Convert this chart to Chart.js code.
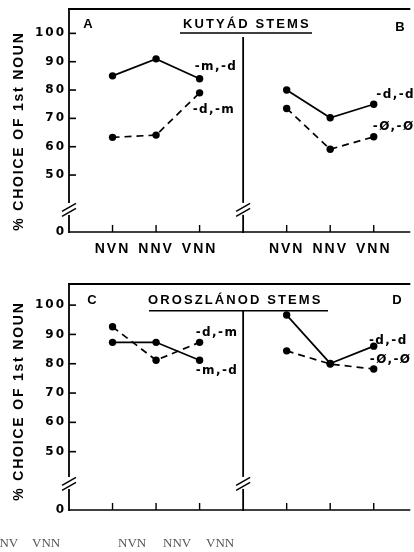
<!DOCTYPE html>
<html><head><meta charset="utf-8">
<script src="https://cdn.jsdelivr.net/npm/chart.js@4/dist/chart.umd.min.js"></script>
<style>
html,body{margin:0;padding:0;background:#fff;width:414px;height:552px;overflow:hidden;position:relative}
canvas{position:absolute;left:0}
#c1{top:0}
#c2{top:270px}
.stray{position:absolute;top:536px;font-family:"Liberation Serif",serif;font-size:13px;color:#555;line-height:13px;white-space:nowrap}
</style></head><body>
<canvas id="c1" width="414" height="270"></canvas>
<canvas id="c2" width="414" height="282"></canvas>
<div class="stray" style="left:-10px">NNV</div>
<div class="stray" style="left:32px">VNN</div>
<div class="stray" style="left:118px">NVN</div>
<div class="stray" style="left:163px">NNV</div>
<div class="stray" style="left:206px">VNN</div>
<script>
// ---- data ----
const categories = ['NVN', 'NNV', 'VNN'];
const xLeftPanel = [0, 1, 2];
const xRightPanel = [4, 5, 6];
const yTickValues = [0, 50, 60, 70, 80, 90, 100];
const yTickLabels = ['0', '50', '60', '70', '80', '90', '100'];
const yAxisTitle = '% CHOICE OF 1st NOUN';

const kutyadTitle = 'KUTYÁD STEMS';
const kutyadA_md = [85, 91, 84];       // -m,-d solid
const kutyadA_dm = [63.3, 64.1, 79];   // -d,-m dashed
const kutyadB_dd = [80, 70.2, 75];     // -d,-d solid
const kutyadB_00 = [73.5, 59.1, 63.5]; // -Ø,-Ø dashed

const oroszTitle = 'OROSZLÁNOD STEMS';
const oroszC_md = [87.3, 87.3, 81.2];  // -m,-d solid
const oroszC_dm = [92.6, 81.2, 87.3];  // -d,-m dashed
const oroszD_dd = [96.6, 80.1, 86];    // -d,-d solid
const oroszD_00 = [84.4, 79.9, 78.2];  // -Ø,-Ø dashed

const xPositions = xLeftPanel.concat(xRightPanel);

function seriesSet(xs, values, dashed) {
  return {
    data: values.map((v, i) => ({x: xs[i], y: v})),
    borderColor: '#000', backgroundColor: '#000', borderWidth: 1.7,
    borderDash: dashed ? [7, 5] : [], pointRadius: 3.7, pointHoverRadius: 3.7,
    pointBackgroundColor: '#000', pointBorderWidth: 0, tension: 0, clip: false
  };
}

const framePlugin = {
  id: 'frame',
  beforeDraw(chart) { chart.ctx.letterSpacing = '2px'; },
  beforeDatasetsDraw(chart) { chart.ctx.letterSpacing = '0px'; },
  afterDraw(chart, args, o) {
    const ctx = chart.ctx, ca = chart.chartArea, x = chart.scales.x, y = chart.scales.y;
    const seg = (x1, y1, x2, y2, w) => { ctx.lineWidth = w; ctx.beginPath(); ctx.moveTo(x1, y1); ctx.lineTo(x2, y2); ctx.stroke(); };
    const slashes = (cx, cy) => { for (const off of [-2.5, 2.5]) seg(cx - 7, cy + off + 4, cx + 7, cy + off - 4, 1.6); };
    ctx.save();
    ctx.strokeStyle = '#000'; ctx.fillStyle = '#000'; ctx.setLineDash([]); ctx.lineCap = 'butt';
    const L = ca.left, R = ca.right, T = ca.top, B = ca.bottom;
    seg(L - 1, T, R, T, 2.2);
    const bc = y.getPixelForValue(o.breakAt);
    seg(L, T - 1, L, bc - 7, 1.8);
    seg(L, bc + 5, L, B + 1, 1.8);
    slashes(L, bc);
    const dx = x.getPixelForValue(3);
    seg(dx, o.dividerTop, dx, bc - 7, 1.8);
    seg(dx, bc + 5, dx, B + 1, 1.8);
    slashes(dx, bc);
    seg(L, B, R, B, 1.6);
    xPositions.forEach(p => { const px = x.getPixelForValue(p); seg(px, B, px, B - 7, 1.4); });
    yTickValues.forEach(v => { if (v === 0) return; const py = y.getPixelForValue(v); seg(L, py, L + 7, py, 1.6); });

    // axis title
    ctx.save();
    ctx.translate(19, 131); ctx.rotate(-Math.PI / 2);
    ctx.font = 'bold 14px "Liberation Sans"'; ctx.letterSpacing = '1.8px';
    ctx.textAlign = 'center'; ctx.textBaseline = 'middle';
    ctx.fillText(yAxisTitle, 0, 0);
    ctx.restore();

    // panel title
    ctx.font = 'bold 13px "Liberation Sans"'; ctx.letterSpacing = '2.1px';
    ctx.textAlign = 'left'; ctx.textBaseline = 'middle';
    ctx.fillText(o.title, o.titleX, o.titleY);
    seg(o.ulX1, o.ulY, o.ulX2, o.ulY, 1.4);

    // panel letters
    ctx.font = 'bold 13px "Liberation Sans"'; ctx.letterSpacing = '0px'; ctx.textAlign = 'center';
    o.letters.forEach(l => ctx.fillText(l.t, l.x, l.y));

    // series labels
    ctx.font = 'bold 12px "DejaVu Sans"'; ctx.letterSpacing = '1.4px'; ctx.textAlign = 'left';
    o.labels.forEach(l => ctx.fillText(l.t, x.getPixelForValue(l.x), y.getPixelForValue(l.y)));
    ctx.restore();
  }
};

function makeChart(id, cfg) {
  return new Chart(document.getElementById(id), {
    type: 'line',
    data: { datasets: cfg.datasets },
    options: {
      responsive: false, animation: false, events: [],
      layout: { padding: { top: cfg.padTop, left: 0, right: 0, bottom: 0 } },
      plugins: { legend: { display: false }, tooltip: { enabled: false }, frame: cfg.frame },
      scales: {
        x: {
          type: 'linear', min: -1, max: 6.84,
          grid: { display: false, drawTicks: false }, border: { display: false },
          afterBuildTicks: s => { s.ticks = xPositions.map(v => ({value: v})); },
          ticks: {
            display: cfg.showX, autoSkip: false, maxRotation: 0, padding: 9, color: '#000',
            font: { family: '"Liberation Sans"', size: 14, weight: 'bold' },
            callback: v => categories[v < 3 ? v : v - 4]
          },
          afterFit: s => { s.height = cfg.xHeight; s.paddingLeft = 0; s.paddingRight = 0; }
        },
        y: {
          type: 'linear', min: cfg.yMin, max: cfg.yMax,
          grid: { display: false, drawTicks: false }, border: { display: false },
          afterBuildTicks: s => { s.ticks = yTickValues.map(v => ({value: v === 0 ? cfg.yMin : v})); },
          ticks: {
            autoSkip: false, padding: 3, color: '#000',
            font: { family: '"DejaVu Sans"', size: 12, weight: 'bold' },
            callback: (v, i) => yTickLabels[i]
          },
          afterFit: s => { s.width = 69; s.paddingTop = 0; s.paddingBottom = 0; }
        }
      }
    },
    plugins: [framePlugin]
  });
}

makeChart('c1', {
  padTop: 9, xHeight: 38, yMin: 29.9, yMax: 108.6, showX: true,
  datasets: [
    seriesSet(xLeftPanel, kutyadA_md, false),
    seriesSet(xLeftPanel, kutyadA_dm, true),
    seriesSet(xRightPanel, kutyadB_dd, false),
    seriesSet(xRightPanel, kutyadB_00, true)
  ],
  frame: {
    breakAt: 37.7, dividerTop: 37,
    title: kutyadTitle, titleX: 183, titleY: 24, ulX1: 180, ulX2: 312, ulY: 33,
    letters: [{t: 'A', x: 88, y: 24}, {t: 'B', x: 400, y: 27}],
    labels: [
      {t: '-m,-d', x: 1.886, y: 88.1},
      {t: '-d,-m', x: 1.84, y: 72.9},
      {t: '-d,-d', x: 6.06, y: 78.2},
      {t: '-Ø,-Ø', x: 5.98, y: 66.9}
    ]
  }
});

makeChart('c2', {
  padTop: 14, xHeight: 42, yMin: 30.1, yMax: 107.2, showX: false,
  datasets: [
    seriesSet(xLeftPanel, oroszC_md, false),
    seriesSet(xLeftPanel, oroszC_dm, true),
    seriesSet(xRightPanel, oroszD_dd, false),
    seriesSet(xRightPanel, oroszD_00, true)
  ],
  frame: {
    breakAt: 39, dividerTop: 40.7,
    title: oroszTitle, titleX: 148, titleY: 30, ulX1: 149, ulX2: 328, ulY: 40.7,
    letters: [{t: 'C', x: 92, y: 30}, {t: 'D', x: 397, y: 30}],
    labels: [
      {t: '-d,-m', x: 1.91, y: 90.5},
      {t: '-m,-d', x: 1.91, y: 77.5},
      {t: '-d,-d', x: 5.89, y: 87.7},
      {t: '-Ø,-Ø', x: 5.91, y: 81.3}
    ]
  }
});
</script>
</body></html>
